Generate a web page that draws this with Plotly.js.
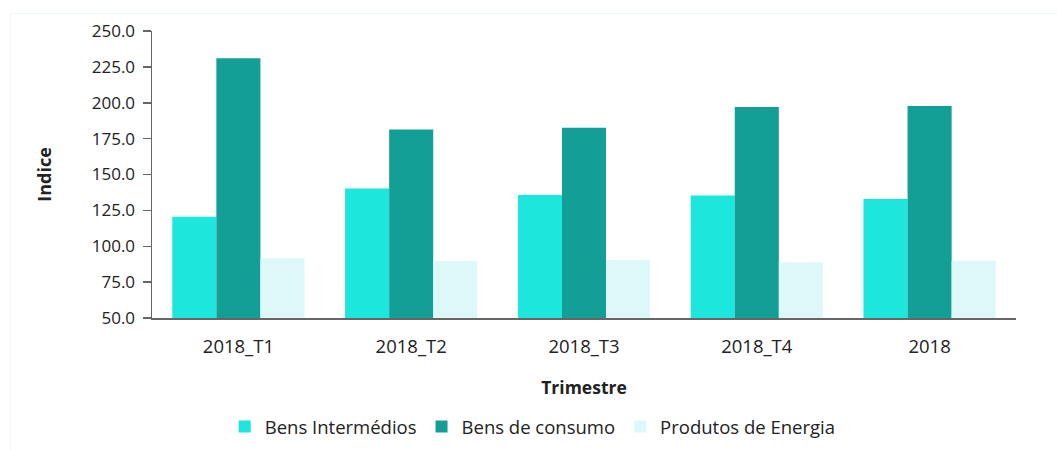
<!DOCTYPE html>
<html>
<head>
<meta charset="utf-8">
<script src="https://cdn.plot.ly/plotly-3.0.1.min.js"></script>
<style>
html,body{margin:0;padding:0;background:#fff;}
#frame{position:absolute;left:10px;top:13px;width:1047px;height:437px;border-left:1px solid #eef8f8;border-top:1px solid #eef8f8;pointer-events:none;}
#chart{width:1057px;height:450px;}
</style>
</head>
<body>
<div id="chart"></div>
<div id="frame"></div>
<script>
const categories = ["2018_T1", "2018_T2", "2018_T3", "2018_T4", "2018"];
const bensIntermedios = [120.6, 140.2, 135.7, 135.3, 133.0];
const bensConsumo = [231.0, 181.4, 182.6, 197.0, 197.7];
const produtosEnergia = [91.6, 89.8, 90.4, 88.6, 89.9];
const yTicks = [50, 75, 100, 125, 150, 175, 200, 225, 250];

const font = "Open Sans, sans-serif";
const traces = [
  {type: "bar", name: "Bens Intermédios", x: categories, y: bensIntermedios, marker: {color: "#1de6dc"}},
  {type: "bar", name: "Bens de consumo", x: categories, y: bensConsumo, marker: {color: "#139e96"}},
  {type: "bar", name: "Produtos de Energia", x: categories, y: produtosEnergia, marker: {color: "#ddf8f9"}}
];
const layout = {
  width: 1057, height: 450,
  margin: {l: 152, r: 41, t: 31, b: 132},
  paper_bgcolor: "#fff", plot_bgcolor: "#fff",
  barmode: "group", bargap: 0.235, bargroupgap: 0,
  font: {family: font, size: 17, color: "#222"},
  showlegend: true,
  legend: {orientation: "h", xref: "container", yref: "container", x: 0.504, xanchor: "center", y: 0.051, yanchor: "middle",
           font: {family: font, size: 18.5, color: "#222"}, traceorder: "normal"},
  xaxis: {
    showline: true, linecolor: "#666", linewidth: 1.5,
    ticks: "", showgrid: false, zeroline: false,
    ticklabelstandoff: 11,
    tickfont: {family: font, size: 18.5, color: "#222"},
    title: {text: "<b>Trimestre</b>", font: {family: font, size: 17.5, color: "#222"}, standoff: 25},
    automargin: false
  },
  yaxis: {
    range: [50, 250], tickvals: yTicks, ticktext: yTicks.map(v => v.toFixed(1)),
    showline: true, linecolor: "#666", linewidth: 1.5,
    ticks: "outside", ticklen: 8, tickcolor: "#666", tickwidth: 1.5,
    ticklabelstandoff: 4,
    showgrid: false, zeroline: false,
    tickfont: {family: font, size: 17, color: "#222"},
    title: {text: "<b>Indice</b>", font: {family: font, size: 18, color: "#222"}, standoff: 35},
    automargin: false
  }
};
Plotly.newPlot("chart", traces, layout, {displayModeBar: false, staticPlot: true});
</script>
</body>
</html>
